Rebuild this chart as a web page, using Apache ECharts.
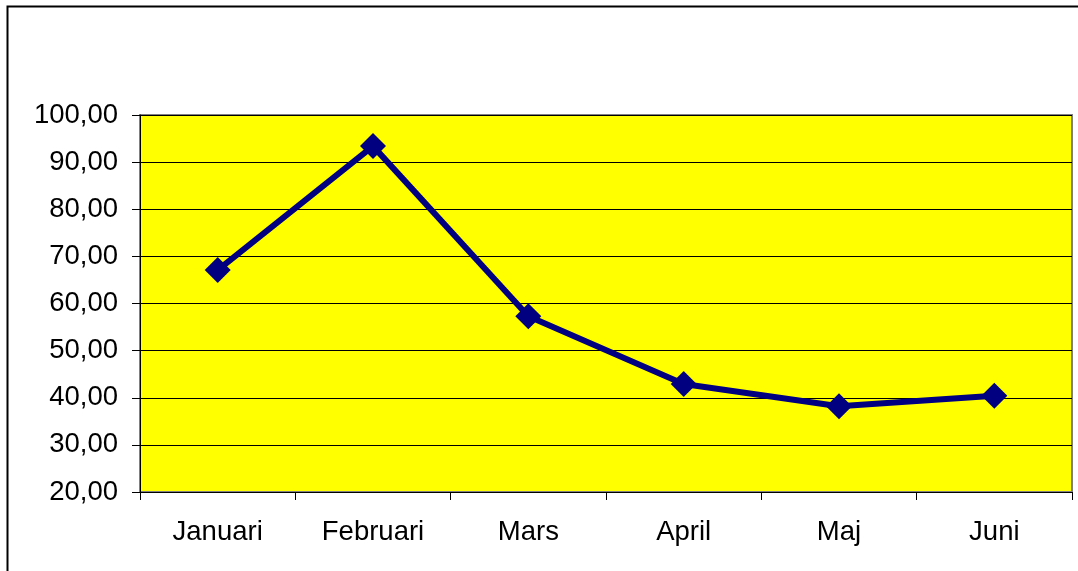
<!DOCTYPE html>
<html>
<head>
<meta charset="utf-8">
<script src="https://cdn.jsdelivr.net/npm/echarts@6/dist/echarts.min.js"></script>
<style>
  html, body { margin: 0; padding: 0; background: #fff; }
  #chart { width: 1078px; height: 571px; }
</style>
</head>
<body>
<div id="chart"></div>
<script>
// data
var months = ['Januari', 'Februari', 'Mars', 'April', 'Maj', 'Juni'];
var values = [67.1, 93.4, 57.3, 42.9, 38.2, 40.4];
var yMin = 20, yMax = 100, yStep = 10;

var myChart = echarts.init(document.getElementById('chart'));
var fontFam = '"Liberation Sans", Arial, sans-serif';

var option = {
  animation: false,
  // outer chart frame (only top and left visible in the original)
  graphic: [{
    type: 'rect',
    shape: { x: 7.5, y: 6.5, width: 1200, height: 700 },
    style: { fill: 'none', stroke: '#000', lineWidth: 2 },
    silent: true
  }],
  grid: {
    left: 140,
    top: 115,
    right: 6,
    bottom: 79,
    show: true,
    backgroundColor: '#ffff00',
    borderColor: '#808080',
    borderWidth: 2
  },
  xAxis: {
    type: 'category',
    data: months,
    boundaryGap: true,
    axisLine: { show: true, lineStyle: { color: '#000', width: 1 } },
    axisTick: { show: true, length: 8, lineStyle: { color: '#000' } },
    axisLabel: {
      margin: 26,
      color: '#000',
      fontSize: 27.5,
      fontFamily: fontFam
    },
    splitLine: { show: false }
  },
  yAxis: {
    type: 'value',
    min: yMin,
    max: yMax,
    interval: yStep,
    axisLine: { show: true, lineStyle: { color: '#000', width: 1 } },
    axisTick: { show: true, length: 8, lineStyle: { color: '#000' } },
    axisLabel: {
      margin: 22,
      color: '#000',
      fontSize: 27.5,
      fontFamily: fontFam,
      formatter: function (v) {
        return v.toFixed(2).replace('.', ',');
      }
    },
    splitLine: { show: true, lineStyle: { color: '#000', width: 1 } }
  },
  series: [{
    type: 'line',
    data: values,
    symbol: 'diamond',
    symbolSize: 26,
    lineStyle: { color: '#000080', width: 6 },
    itemStyle: { color: '#000080' }
  }]
};

myChart.setOption(option);
</script>
</body>
</html>
